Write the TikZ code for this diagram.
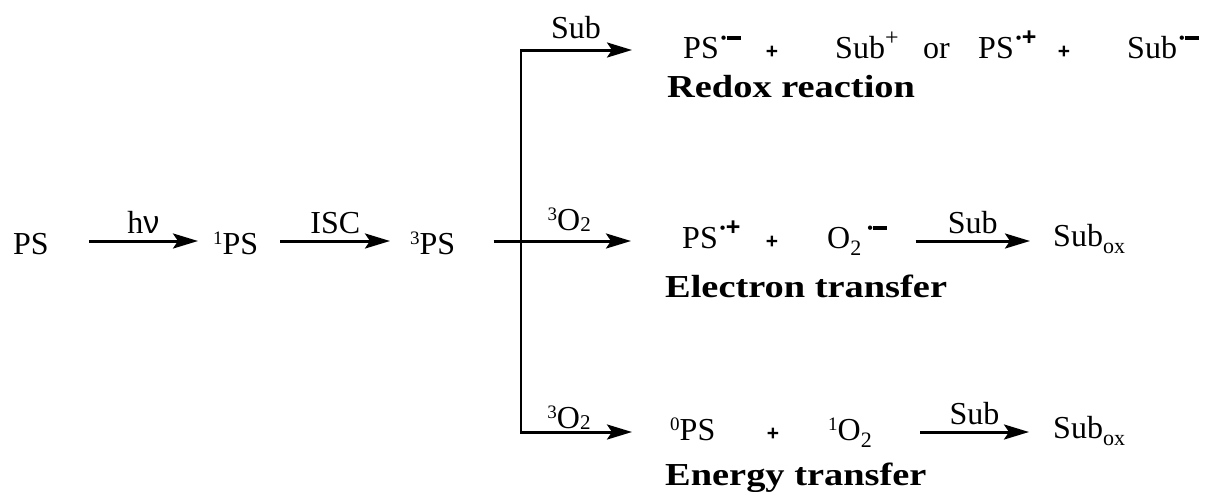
\documentclass[tikz,border=0pt]{standalone}
\usepackage{fontspec}
\setmainfont{Liberation Serif}
\setsansfont{Liberation Sans}
\usepackage{graphicx}
\usetikzlibrary{arrows.meta}
\newcommand\sps[1]{\raisebox{10pt}{\fontsize{19}{19}\selectfont #1}}
\newcommand\sbs[1]{\raisebox{-7pt}{\fontsize{22}{22}\selectfont #1}}
\newcommand\supp{\raisebox{13pt}{\fontsize{24}{24}\selectfont +}}
\newcommand\rdot{\kern2pt\raisebox{15pt}{\fontsize{16}{16}\selectfont\sffamily\textbullet}\kern0.5pt}
\newcommand\radm{\rdot\rule[18.5pt]{14pt}{3.5pt}}
\newcommand\radp{\rdot\raisebox{13pt}{\fontsize{25}{25}\selectfont\sffamily\bfseries +}}
\newcommand\pls{{\fontsize{21}{21}\selectfont\sffamily\bfseries +}}
\newcommand\mechname[1]{\scalebox{1.2}[1]{\bfseries #1}}
\begin{document}
\begin{tikzpicture}[x=1pt, y=-1pt,
	every node/.style={inner sep=0pt, anchor=base west, font=\fontsize{32}{38}\selectfont},
	rxn/.style={-{Stealth[length=25pt, width=15pt, inset=5pt]}, line width=3pt},
	lbl/.style={midway, anchor=base, yshift=8pt},
	sgn/.style={anchor=base}]
	\useasboundingbox (0, 0) rectangle (1207, 491);
	\coordinate (lvl) at (0, 241);
	\coordinate (ftop) at (521, 50);
	\coordinate (fbot) at (521, 432);
	\node (ps) at (13, 254) {PS};
	\node (ps1) at (213, 254) {\sps{1}PS};
	\node (ps3) at (410, 254) {\sps{3}PS};
	\node (r1a) at (683, 58) {PS\radm};
	\node[sgn] (p1) at (772, 58) {\pls};
	\node (r1b) at (835, 58) {Sub\supp};
	\node (orw) at (923, 58) {or};
	\node (r1c) at (978, 58) {PS\radp};
	\node[sgn] (p2) at (1064, 58) {\pls};
	\node (r1d) at (1127, 58) {Sub\radm};
	\node (redox) at (667, 97) {\mechname{Redox reaction}};
	\node (r2a) at (682, 248) {PS\radp};
	\node[sgn] (p3) at (772, 248) {\pls};
	\node (r2b) at (827, 248) {O\sbs{2}\kern4pt\radm};
	\node (r2c) at (1053, 246) {Sub\sbs{ox}};
	\node (etr) at (665, 297) {\mechname{Electron transfer}};
	\node (r3a) at (670, 440) {\sps{0}PS};
	\node[sgn] (p4) at (773, 440) {\pls};
	\node (r3b) at (828, 440) {\sps{1}O\sbs{2}};
	\node (r3c) at (1053, 438) {Sub\sbs{ox}};
	\node (entr) at (665, 485) {\mechname{Energy transfer}};
	\draw[rxn] ([xshift=40pt]ps.east |- lvl) -- node[lbl] {h{\sffamily ν}} ([xshift=-15pt]ps1.west |- lvl);
	\draw[rxn] ([xshift=22pt]ps1.east |- lvl) -- node[lbl] {ISC} ([xshift=-20pt]ps3.west |- lvl);
	\draw[line width=2pt] (ftop) -- (fbot);
	\draw[rxn] ([xshift=38pt]ps3.east |- lvl) -- node[lbl, xshift=7pt, yshift=3pt] {\sps{3}O\raisebox{-1pt}{\fontsize{21}{21}\selectfont 2}} ([xshift=-51pt]r2a.west |- lvl);
	\draw[rxn] ([xshift=-1pt]ftop) -- node[lbl, yshift=4pt] {Sub} ([xshift=-51pt]r1a.west |- ftop);
	\draw[rxn] ([xshift=-1pt]fbot) -- node[lbl, xshift=-7pt, yshift=-4pt] {\sps{3}O\raisebox{-1pt}{\fontsize{21}{21}\selectfont 2}} ([xshift=-38pt]r3a.west |- fbot);
	\draw[rxn] ([xshift=28pt]r2b.east |- lvl) -- node[lbl] {Sub} ([xshift=-23pt]r2c.west |- lvl);
	\draw[rxn] ([xshift=48pt]r3b.east |- fbot) -- node[lbl] {Sub} ([xshift=-24pt]r3c.west |- fbot);
\end{tikzpicture}
\end{document}
